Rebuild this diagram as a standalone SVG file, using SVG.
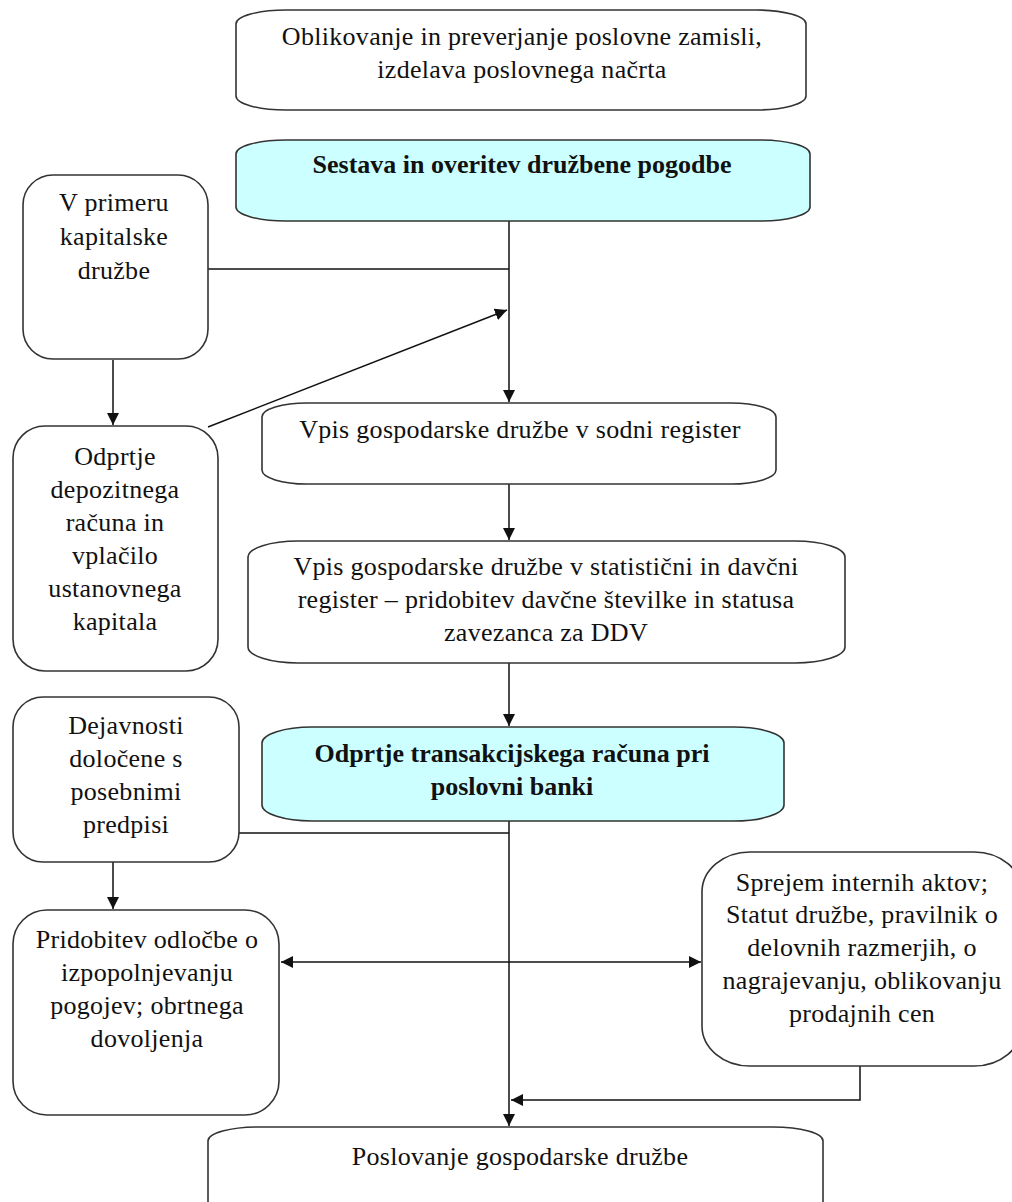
<svg xmlns="http://www.w3.org/2000/svg" width="1012" height="1202" viewBox="0 0 1012 1202">
<style>
.box{fill:#fff;stroke:#333;stroke-width:1.6}
.cyan{fill:#ccffff;stroke:#333;stroke-width:1.6}
.t{font-family:"Liberation Serif","Times New Roman",serif;font-size:26px;fill:#111;text-anchor:middle;letter-spacing:0.3px}
.b{font-weight:bold;letter-spacing:0}
.ln{fill:none;stroke:#111;stroke-width:1.5}
</style>
<defs>
<marker id="ah" markerWidth="12" markerHeight="12" viewBox="0 0 12 12" refX="12" refY="6" orient="auto" markerUnits="userSpaceOnUse">
<path d="M0,0 L12,6 L0,12 z" fill="#111"/>
</marker>
</defs>
<rect width="1012" height="1202" fill="#fff"/>

<g id="connectors">
<line class="ln" x1="509" y1="221" x2="509" y2="402" marker-end="url(#ah)"/>
<line class="ln" x1="208" y1="269" x2="509" y2="269"/>
<line class="ln" x1="208" y1="427" x2="507" y2="310" marker-end="url(#ah)"/>
<line class="ln" x1="113" y1="360" x2="113" y2="425" marker-end="url(#ah)"/>
<line class="ln" x1="509" y1="484" x2="509" y2="540" marker-end="url(#ah)"/>
<line class="ln" x1="509" y1="663" x2="509" y2="726" marker-end="url(#ah)"/>
<line class="ln" x1="509" y1="821" x2="509" y2="1126" marker-end="url(#ah)"/>
<line class="ln" x1="235" y1="833" x2="509" y2="833"/>
<line class="ln" x1="113" y1="862" x2="113" y2="909" marker-end="url(#ah)"/>
<line class="ln" x1="509" y1="962" x2="701" y2="962" marker-end="url(#ah)"/>
<line class="ln" x1="509" y1="962" x2="281" y2="962" marker-end="url(#ah)"/>
<polyline class="ln" points="860,1066 860,1100 511,1100" marker-end="url(#ah)"/>
</g>

<g id="n1">
<rect class="box" x="236" y="10" width="570" height="100" rx="50" ry="14"/>
<text class="t" x="522" y="45">Oblikovanje in preverjanje poslovne zamisli,</text>
<text class="t" x="522" y="78">izdelava poslovnega načrta</text>
</g>

<g id="n2">
<rect class="cyan" x="236" y="140" width="574" height="81" rx="50" ry="14"/>
<text class="t b" x="522" y="173">Sestava in overitev družbene pogodbe</text>
</g>

<g id="nA">
<rect class="box" x="23" y="175" width="185" height="184" rx="30" ry="30"/>
<text class="t" x="114" y="211">V primeru</text>
<text class="t" x="114" y="245">kapitalske</text>
<text class="t" x="114" y="279">družbe</text>
</g>

<g id="nB">
<rect class="box" x="13" y="426" width="205" height="245" rx="32" ry="32"/>
<text class="t" x="115" y="465">Odprtje</text>
<text class="t" x="115" y="498">depozitnega</text>
<text class="t" x="115" y="531">računa in</text>
<text class="t" x="115" y="564">vplačilo</text>
<text class="t" x="115" y="597">ustanovnega</text>
<text class="t" x="115" y="630">kapitala</text>
</g>

<g id="n3">
<rect class="box" x="262" y="403" width="514" height="81" rx="45" ry="14"/>
<text class="t" x="520" y="438">Vpis gospodarske družbe v sodni register</text>
</g>

<g id="n4">
<rect class="box" x="248" y="541" width="597" height="122" rx="50" ry="16"/>
<text class="t" x="546" y="575">Vpis gospodarske družbe v statistični in davčni</text>
<text class="t" x="546" y="608">register – pridobitev davčne številke in statusa</text>
<text class="t" x="546" y="641">zavezanca za DDV</text>
</g>

<g id="n5">
<rect class="cyan" x="262" y="727" width="522" height="94" rx="50" ry="16"/>
<text class="t b" x="512" y="762">Odprtje transakcijskega računa pri</text>
<text class="t b" x="512" y="795">poslovni banki</text>
</g>

<g id="nC">
<rect class="box" x="13" y="697" width="226" height="165" rx="30" ry="30"/>
<text class="t" x="126" y="734">Dejavnosti</text>
<text class="t" x="126" y="767">določene s</text>
<text class="t" x="126" y="800">posebnimi</text>
<text class="t" x="126" y="833">predpisi</text>
</g>

<g id="nD">
<rect class="box" x="13" y="910" width="266" height="205" rx="34" ry="34"/>
<text class="t" x="147" y="948">Pridobitev odločbe o</text>
<text class="t" x="147" y="981">izpopolnjevanju</text>
<text class="t" x="147" y="1014">pogojev; obrtnega</text>
<text class="t" x="147" y="1047">dovoljenja</text>
</g>

<g id="nE">
<rect class="box" x="702" y="852" width="320" height="214" rx="48" ry="40"/>
<text class="t" x="862" y="891">Sprejem internih aktov;</text>
<text class="t" x="862" y="923">Statut družbe, pravilnik o</text>
<text class="t" x="862" y="956">delovnih razmerjih, o</text>
<text class="t" x="862" y="989">nagrajevanju, oblikovanju</text>
<text class="t" x="862" y="1022">prodajnih cen</text>
</g>

<g id="nF">
<rect class="box" x="208" y="1127" width="615" height="110" rx="50" ry="14"/>
<text class="t" x="520" y="1165">Poslovanje gospodarske družbe</text>
</g>
</svg>
